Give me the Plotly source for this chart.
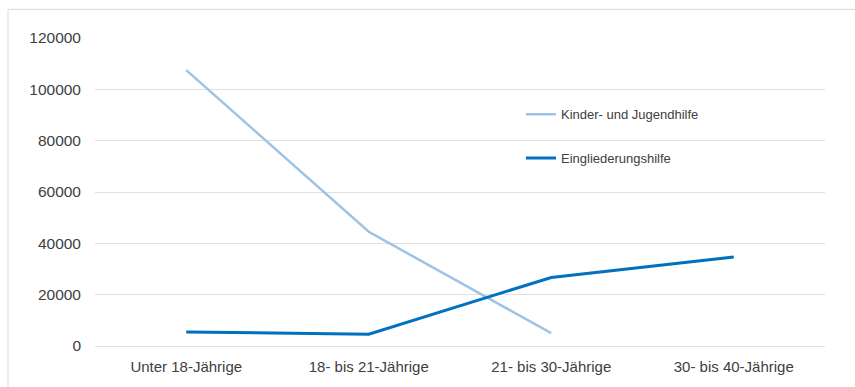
import plotly.graph_objects as go

categories = ["Unter 18-Jährige", "18- bis 21-Jährige", "21- bis 30-Jährige", "30- bis 40-Jährige"]
kinder_jugendhilfe = [107500, 44500, 5000, None]
eingliederungshilfe = [5500, 4600, 26700, 34700]
y_ticks = [0, 20000, 40000, 60000, 80000, 100000, 120000]

fig = go.Figure()
fig.add_trace(go.Scatter(
    x=categories, y=kinder_jugendhilfe, mode="lines", name="Kinder- und Jugendhilfe",
    line=dict(color="#9DC3E6", width=2.5), legendgroup="a", connectgaps=False))
fig.add_trace(go.Scatter(
    x=categories, y=eingliederungshilfe, mode="lines", name="Eingliederungshilfe",
    line=dict(color="#0070C0", width=3), legendgroup="b"))

W, H = 855, 387
L, R, T, B = 95, 30, 38, 37
pw, ph = W - L - R, H - T - B

def px_x(x):
    return (x - L) / pw

def px_y(y):
    return (H - B - y) / ph

fig.update_layout(
    width=W, height=H,
    margin=dict(l=L, r=R, t=T, b=B),
    paper_bgcolor="white", plot_bgcolor="white",
    font=dict(family="Liberation Sans, Arial, sans-serif", color="#404040", size=14),
    xaxis=dict(type="category", showgrid=False, showline=False, ticks="",
               tickfont=dict(size=15, color="#404040"), range=[-0.5, 3.5],
               ticklabelstandoff=10),
    yaxis=dict(range=[0, 120000], tickvals=y_ticks, ticktext=[str(v) for v in y_ticks],
               showgrid=True, gridcolor="#E0E0E0", gridwidth=1, zeroline=True,
               zerolinecolor="#E0E0E0", zerolinewidth=1, showline=False,
               ticks="", ticklabelstandoff=13, tickfont=dict(size=15.5, color="#404040")),
    legend=dict(x=px_x(521), y=px_y(100), xanchor="left", yanchor="top",
                bgcolor="rgba(0,0,0,0)", font=dict(size=13, color="#404040"),
                traceorder="grouped", tracegroupgap=24, itemwidth=30),
    showlegend=True,
)
fig.add_shape(type="line", xref="paper", yref="paper",
              x0=px_x(8), x1=px_x(860), y0=px_y(9), y1=px_y(9),
              line=dict(color="#D9D9D9", width=1))
fig.add_shape(type="line", xref="paper", yref="paper",
              x0=px_x(8), x1=px_x(8), y0=px_y(9), y1=px_y(395),
              line=dict(color="#D9D9D9", width=1))

fig.write_html("out.html", config={"displayModeBar": False},
               post_script="document.body.style.margin='0';document.body.style.overflow='hidden';")
